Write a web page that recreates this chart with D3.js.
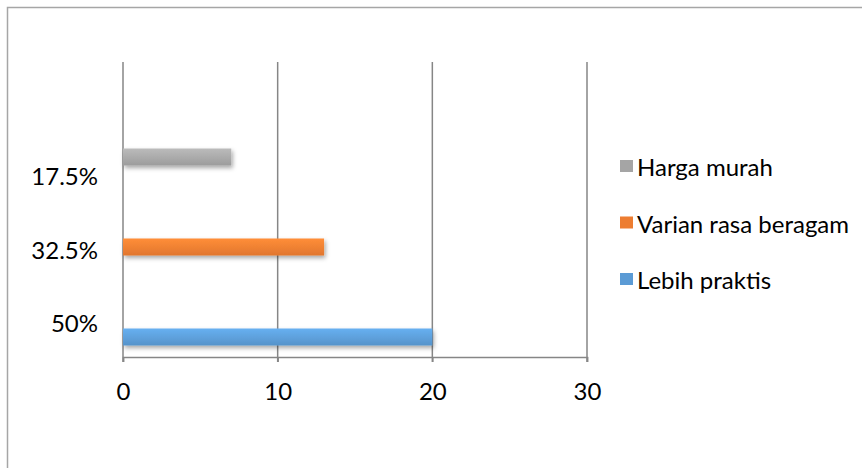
<!DOCTYPE html>
<html>
<head>
<meta charset="utf-8">
<script src="https://cdn.jsdelivr.net/npm/d3@7"></script>
<style>
  body { margin: 0; background: #fff; }
  svg { display: block; font-family: Lato, "Open Sans", sans-serif; }
</style>
</head>
<body>
<div class="canvas"></div>
<script>
// chart data
const categories = ['50%', '32.5%', '17.5%'];
const seriesNames = ['Lebih praktis', 'Varian rasa beragam', 'Harga murah'];
const seriesValues = [20, 13, 7];
const xTicks = [0, 10, 20, 30];
const colors = ['#5b9bd5', '#ed7d31', '#a5a5a5'];

const dims = { width: 862, height: 468 };
const plot = { left: 123, right: 587, top: 62, bottom: 357 };
const fontSize = 24;

const svg = d3.select('.canvas')
    .append('svg')
    .attr('width', dims.width)
    .attr('height', dims.height);

// outer frame (right and bottom sides fall outside the picture)
svg.append('rect')
    .attr('x', 7.5).attr('y', 7.5)
    .attr('width', 900).attr('height', 500)
    .attr('fill', '#fff')
    .attr('stroke', '#a6a6a6')
    .attr('stroke-width', 1.5);

const defs = svg.append('defs');

// gradient per series
colors.forEach((c, i) => {
    const g = defs.append('linearGradient')
        .attr('id', 'grad' + i)
        .attr('x1', 0).attr('y1', 0).attr('x2', 0).attr('y2', 1);
    g.append('stop').attr('offset', '0%').attr('stop-color', d3.color(c).brighter(0.35));
    g.append('stop').attr('offset', '100%').attr('stop-color', d3.color(c).darker(0.15));
});

const shadow = defs.append('filter')
    .attr('id', 'shadow')
    .attr('x', '-10%').attr('y', '-50%').attr('width', '130%').attr('height', '250%');
shadow.append('feDropShadow')
    .attr('dx', 1.5).attr('dy', 2.5)
    .attr('stdDeviation', 2)
    .attr('flood-color', '#000')
    .attr('flood-opacity', 0.35);

// scales
const x = d3.scaleLinear()
    .domain([0, 30])
    .range([plot.left, plot.right]);

// bar rows and category label rows (label rows are baselines)
const yBar = d3.scalePoint()
    .domain(seriesNames)
    .range([337, 157]);

const yLabel = d3.scalePoint()
    .domain(categories)
    .range([332, 185]);

// gridlines
svg.append('g')
    .selectAll('line')
    .data(xTicks)
    .enter()
    .append('line')
        .attr('x1', d => x(d)).attr('x2', d => x(d))
        .attr('y1', plot.top).attr('y2', plot.bottom + 5)
        .attr('stroke', '#868686')
        .attr('stroke-width', 1.5);

// bars
const barH = 17;
svg.append('g')
    .selectAll('rect')
    .data(seriesValues)
    .enter()
    .append('rect')
        .attr('x', x(0))
        .attr('y', (d, i) => yBar(seriesNames[i]) - barH / 2)
        .attr('width', d => x(d) - x(0))
        .attr('height', barH)
        .attr('fill', (d, i) => `url(#grad${i})`)
        .attr('filter', 'url(#shadow)');

// x axis
const xAxis = d3.axisBottom(x)
    .tickValues(xTicks)
    .tickSize(5)
    .tickPadding(21);

const xg = svg.append('g')
    .attr('transform', `translate(0, ${plot.bottom})`)
    .call(xAxis);
xg.select('.domain').attr('stroke', '#868686').attr('stroke-width', 1.5);
xg.selectAll('.tick line').attr('stroke', '#868686').attr('stroke-width', 1.5);
xg.selectAll('text')
    .attr('font-size', fontSize)
    .attr('font-family', 'Lato, sans-serif')
    .attr('fill', '#000');

// category labels
svg.append('g')
    .selectAll('text')
    .data(categories)
    .enter()
    .append('text')
        .attr('x', 98)
        .attr('y', d => yLabel(d))
        .attr('text-anchor', 'end')
        .attr('font-size', fontSize)
        .text(d => d);

// legend (top item is last series)
const legendNames = seriesNames.slice().reverse();
const legendColors = colors.slice().reverse();
const legendY = d3.scalePoint()
    .domain(legendNames)
    .range([176, 289]);

const legend = svg.append('g');
legend.selectAll('rect')
    .data(legendNames)
    .enter()
    .append('rect')
        .attr('x', 620)
        .attr('y', d => legendY(d) - 16)
        .attr('width', 13).attr('height', 12)
        .attr('fill', (d, i) => legendColors[i]);

legend.selectAll('text')
    .data(legendNames)
    .enter()
    .append('text')
        .attr('x', 637)
        .attr('y', d => legendY(d))
        .attr('font-size', fontSize)
        .text(d => d);
</script>
</body>
</html>
